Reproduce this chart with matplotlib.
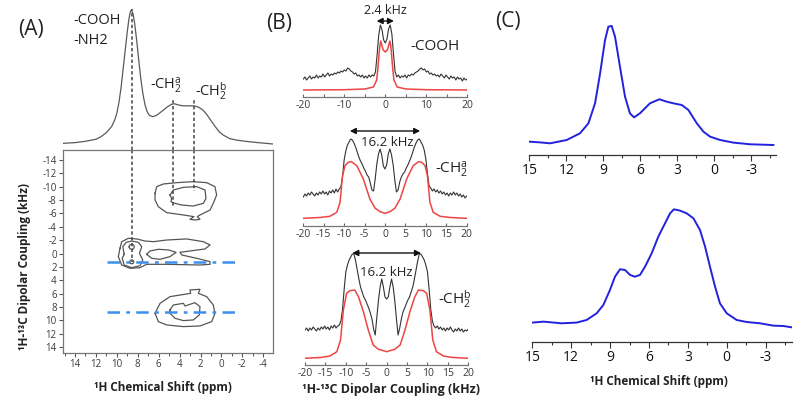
import numpy as np
import matplotlib
matplotlib.use("Agg")
import matplotlib.pyplot as plt

plt.rcParams['font.family'] = ['Open Sans', 'DejaVu Sans']
plt.rcParams['axes.unicode_minus'] = False
plt.rcParams['mathtext.fontset'] = 'custom'
plt.rcParams['mathtext.rm'] = 'Open Sans'
plt.rcParams['mathtext.it'] = 'Open Sans:italic'

# ---------------- DATA ----------------
# Panel A: 1D projection (ppm, intensity)
A_PPM = [15.1, 14.0, 13.0, 12.0, 11.5, 11.0, 10.5, 10.2, 10.0, 9.8, 9.6, 9.4, 9.2, 9.0, 8.85,
         8.7, 8.6, 8.45, 8.3, 8.1, 7.9, 7.7, 7.5, 7.3, 7.1, 6.9, 6.6, 6.3, 6.0, 5.6, 5.2, 4.8,
         4.5, 4.2, 3.8, 3.4, 3.0, 2.6, 2.2, 1.8, 1.4, 1.0, 0.6, 0.2, -0.2, -0.8, -1.5, -2.5, -3.5, -4.9]
A_INT = [0.5, 1.0, 2.0, 3.5, 5.5, 8.5, 13, 18, 23, 31, 42, 56, 70, 84, 93,
         99, 100, 97, 90, 77, 62, 48, 37, 29, 24, 21.5, 20.4, 21, 22.5, 25, 27.5, 29.5,
         30, 29.3, 28.6, 28.4, 28.5, 28.4, 27.5, 25.5, 22, 17.5, 13, 9, 6.5, 4, 2.8, 1.8, 1.0, 0]

# Panel A: 2D contour outlines (ppm, kHz)
CONT_UP_OUTER = [(6.35, -9.01), (6.19, -10.01), (5.56, -10.41), (4.28, -10.61), (2.69, -10.76),
                 (1.41, -10.61), (0.62, -10.01), (0.46, -8.76), (0.78, -7.51), (1.09, -6.51),
                 (2.05, -5.77), (2.31, -5.52), (2.05, -5.12), (2.53, -5.02), (3.01, -5.12),
                 (2.63, -5.52), (3.64, -5.77), (5.24, -6.12), (6.03, -7.01), (6.35, -8.01)]
CONT_UP_INNER = [(4.92, -8.76), (4.60, -9.51), (3.64, -9.91), (2.37, -10.01), (1.57, -9.51),
                 (1.48, -8.26), (1.73, -7.51), (2.69, -7.11), (3.80, -7.26), (4.44, -7.51),
                 (4.82, -7.76), (4.76, -8.26)]
CONT_MID_OUTER = [(9.70, -0.78), (9.54, -1.77), (8.90, -2.28), (8.10, -2.18), (7.31, -1.87),
                  (6.51, -1.77), (5.23, -2.02), (3.32, -2.18), (1.73, -1.77), (1.09, -1.28),
                  (1.57, -0.68), (3.01, -0.38), (3.96, -0.18), (3.80, 0.22), (2.37, 0.72),
                  (1.09, 1.22), (1.09, 1.62), (2.05, 1.72), (5.23, 1.62), (7.15, 1.62),
                  (7.79, 2.12), (8.74, 2.22), (9.54, 1.72), (9.86, 0.47)]
CONT_MID_EYE = [(7.15, 0.12), (6.83, -0.38), (6.03, -0.63), (5.07, -0.53), (4.34, -0.18),
                (4.92, 0.47), (5.87, 0.87), (6.67, 0.72)]
CONT_MID_INNER = [(9.30, 0.12), (9.43, -1.02), (9.11, -1.67), (8.58, -1.87), (7.94, -1.67),
                  (7.62, -1.02), (7.84, -0.03), (7.52, 0.97), (7.79, 1.82), (8.58, 2.12),
                  (9.30, 1.72), (9.49, 0.72)]
CONT_MID_TOP = [(8.83, -1.0), (8.76, -1.28), (8.58, -1.4), (8.40, -1.28), (8.33, -1.0),
                (8.40, -0.72), (8.58, -0.6), (8.76, -0.72)]
CONT_MID_BOT = [(8.78, 1.25), (8.72, 1.04), (8.58, 0.95), (8.44, 1.04), (8.38, 1.25),
                (8.44, 1.46), (8.58, 1.55), (8.72, 1.46)]
CONT_LOW_OUTER = [(6.35, 8.95), (5.87, 7.46), (4.92, 6.46), (3.32, 6.06), (2.94, 5.96),
                  (3.01, 5.46), (2.05, 5.36), (2.21, 5.96), (1.41, 6.46), (0.78, 7.71),
                  (0.62, 8.95), (0.93, 10.20), (2.05, 10.85), (3.64, 10.95), (5.24, 10.70),
                  (6.03, 10.20)]
CONT_LOW_INNER = [(4.92, 8.46), (4.60, 7.71), (3.64, 7.46), (3.48, 7.86), (2.53, 7.36),
                  (2.05, 7.96), (2.12, 9.20), (2.69, 9.95), (3.64, 10.05), (4.44, 9.70),
                  (4.92, 8.95)]
CONTOURS = [CONT_UP_OUTER, CONT_UP_INNER, CONT_MID_OUTER, CONT_MID_EYE, CONT_MID_INNER,
            CONT_MID_TOP, CONT_MID_BOT, CONT_LOW_OUTER, CONT_LOW_INNER]

# Panel A markers: assignment positions (ppm), dashed line ends (kHz), tops (intensity)
ASSIGN_PPM = [8.6, 4.6, 2.6]
ASSIGN_KHZ = [1.2, -7.0, -9.3]
ASSIGN_TOP = [101, 33, 34.5]
SLICE_KHZ = [1.2, 8.7]
SLICE_PPM = [10.9, -1.6]

# Panel B: dipolar slices on a common 0.4 kHz grid
B_KHZ = np.linspace(-20, 20, 101)
B_COOH_EXP = [11, 13, 10, 12, 14, 11, 13, 12, 15, 12,
              14, 13, 16, 13, 15, 17, 14, 16, 15, 17,
              16, 18, 17, 19, 18, 20, 19, 22, 21, 19,
              18, 16, 17, 14, 15, 13, 15, 12, 14, 12,
              15, 13, 15, 14, 18, 35, 55, 65, 60, 50,
              47, 51, 61, 65, 56, 36, 18, 13, 15, 12,
              14, 13, 15, 12, 15, 14, 16, 15, 17, 18,
              19, 21, 22, 20, 21, 18, 19, 16, 17, 15,
              16, 14, 15, 13, 16, 14, 12, 15, 13, 11,
              14, 12, 13, 10, 13, 11, 12, 9, 12, 10, 11]
B_CH2A_EXP = [22, 25, 23, 26, 24, 27, 25, 23, 26, 24,
              27, 25, 28, 25, 27, 24, 28, 26, 29, 26,
              30, 27, 30, 32, 42, 59, 68, 74, 77, 80,
              79, 76, 72, 67, 62, 58, 55, 51, 48, 44,
              42, 36, 29, 28, 40, 55, 65, 70, 64, 53,
              50, 54, 65, 70, 64, 54, 39, 27, 29, 37,
              42, 45, 47, 51, 54, 58, 62, 67, 72, 76,
              79, 80, 77, 74, 69, 60, 45, 33, 31, 28,
              30, 27, 29, 26, 28, 25, 27, 24, 26, 23,
              26, 24, 27, 24, 26, 23, 25, 22, 24, 21, 23]
B_CH2B_EXP = [29, 31, 28, 31, 29, 32, 30, 28, 31, 29,
              32, 30, 33, 30, 32, 29, 33, 31, 34, 31,
              33, 34, 38, 50, 70, 87, 94, 99, 102, 105,
              105, 98, 89, 80, 72, 67, 62, 59, 55, 51,
              46, 40, 30, 24, 42, 59, 72, 80, 72, 62,
              60, 62, 72, 80, 72, 58, 40, 24, 31, 40,
              47, 51, 55, 59, 62, 67, 72, 80, 89, 98,
              105, 105, 102, 99, 94, 87, 70, 50, 38, 33,
              31, 33, 30, 32, 29, 31, 28, 31, 29, 32,
              29, 27, 30, 28, 31, 28, 30, 27, 29, 28, 30]
B_COOH_SIM_X = [-20, -10, -5, -2.9, -2.1, -1.8, -1.5, -1.3, -1.1, -0.8, -0.5, 0,
                0.5, 0.8, 1.1, 1.3, 1.5, 1.8, 2.1, 2.9, 5, 10, 20]
B_COOH_SIM_Y = [0, 0.3, 1, 3, 10, 22, 37, 45, 49, 44, 40, 38,
                40, 44, 49, 45, 37, 22, 10, 3, 1, 0.3, 0]
B_CH2A_SIM_X = [-20, -16, -13.5, -11.8, -11, -10.4, -9.8, -9, -8.2, -6.9, -5.3, -3.7,
                -2.4, -1.2, 0, 1.2, 2.4, 3.7, 5.3, 6.9, 8.2, 9, 9.8, 10.4, 11, 11.8, 13.5, 16, 20]
B_CH2A_SIM_Y = [0.7, 1.5, 2.7, 6.7, 16.7, 43, 53.3, 56.7, 57.3, 53.3, 40, 20,
                10.7, 7.3, 5.7, 7.3, 10.7, 20, 40, 53.3, 57.3, 56.7, 53.3, 43, 16.7, 6.7, 2.7, 1.5, 0.7]
B_CH2B_SIM_X = [-20, -16, -13.9, -12.2, -11.3, -10.6, -9.8, -9, -7.8, -6.9, -5.7, -4.5,
                -3.3, -2, -0.8, 0, 0.8, 2, 3.3, 4.5, 5.7, 6.9, 7.8, 9, 9.8, 10.6, 11.3, 12.2, 13.9, 16, 20]
B_CH2B_SIM_Y = [0.7, 1.6, 3, 7.3, 19, 49, 65.7, 68.3, 69, 62.3, 47.3, 29,
                14, 9.7, 8.3, 7.3, 8.3, 9.7, 14, 29, 47.3, 62.3, 69, 68.3, 65.7, 49, 19, 7.3, 3, 1.6, 0.7]
B_SPLIT = [2.4, 16.2, 16.2]
B_GROUPS = ['-COOH', '-CH$_2^\\mathrm{a}$', '-CH$_2^\\mathrm{b}$']

# Panel C: 1H spectra
C1_PPM = [15.0, 14.13, 13.32, 11.97, 10.89, 10.21, 9.67, 9.26, 8.86, 8.59, 8.32, 8.05, 7.65,
          7.24, 6.84, 6.51, 6.03, 5.22, 4.46, 3.86, 3.32, 2.64, 2.10, 1.42, 0.88, 0.34, -0.47,
          -1.55, -2.90, -4.79]
C1_INT = [2.8, 2.2, 1.4, 4.2, 9.8, 18.2, 35, 60.2, 88.2, 99.4, 100, 91, 65.8,
          40.6, 26.6, 23.2, 26.6, 35, 38.4, 36.4, 35, 33.6, 29.4, 18.2, 11.2, 7, 4.2,
          2, 0.6, 0]
C2_PPM = [15.0, 14.15, 12.74, 11.58, 10.81, 10.03, 9.52, 9.01, 8.62, 8.23, 7.85, 7.46, 7.08,
          6.69, 6.30, 5.79, 5.28, 4.76, 4.37, 4.07, 3.60, 3.09, 2.57, 2.06, 1.67, 1.29, 0.90,
          0.52, 0.0, -0.77, -1.54, -2.57, -3.60, -4.37, -5.0]
C2_INT = [4.0, 4.8, 3.4, 4.0, 6.2, 11.9, 18.9, 31.6, 42.9, 49.2, 48.6, 44.4, 42.9,
          44.4, 51.4, 62.7, 76.8, 88.1, 96.6, 100, 98.9, 96.6, 92.4, 82.5, 68.4, 51.4, 34.5,
          20.3, 11.9, 6.2, 4.5, 3.4, 1.4, 1.1, 0]

# ---------------- STYLE ----------------
GRAY_TXT = '#3a3a3a'
RED = '#ee4444'
BLUE = '#2222dd'
SLICE_BLUE = '#3d8fef'

fig = plt.figure(figsize=(8, 4), dpi=100)


def add_ax(l, t, r, b):
    return fig.add_axes([l / 800, 1 - b / 400, (r - l) / 800, (b - t) / 400])


# ---------- Panel A ----------
axA1 = add_ax(63, 5, 273, 150)
axA1.set_xlim(15.15, -4.93)
axA1.set_ylim(-4.5, 103.7)
axA1.axis('off')
axA1.plot(A_PPM, A_INT, color='#5a5a5a', lw=0.9)

axA2 = add_ax(63, 150, 273, 353)
axA2.set_xlim(15.15, -4.93)
axA2.set_ylim(14.9, -15.5)
for poly in CONTOURS:
    xs = [p[0] for p in poly] + [poly[0][0]]
    ys = [p[1] for p in poly] + [poly[0][1]]
    axA2.plot(xs, ys, color='#555555', lw=0.9)
for p, k, top in zip(ASSIGN_PPM, ASSIGN_KHZ, ASSIGN_TOP):
    axA2.plot([p, p], [-15.5, k], color='#444444', lw=1.1, ls=(0, (2.2, 1.6)))
    axA1.plot([p, p], [-4.5, top], color='#444444', lw=1.1, ls=(0, (2.2, 1.6)))
for k in SLICE_KHZ:
    axA2.plot(SLICE_PPM, [k, k], color=SLICE_BLUE, lw=1.8, ls=(0, (5, 2.5, 1.5, 2.5)))
axA2.set_xticks(np.arange(14, -5, -2))
axA2.set_xticks(np.arange(15, -5, -1), minor=True)
axA2.set_yticks(np.arange(-14, 15, 2))
for s in axA2.spines.values():
    s.set_color('#777777')
    s.set_linewidth(0.9)
axA2.tick_params(axis='both', which='major', labelsize=7, colors='#555555',
                 labelcolor=GRAY_TXT, length=3, width=0.8, direction='out', pad=1.5)
axA2.tick_params(axis='x', which='minor', length=2, width=0.7, colors='#555555', direction='out')

fig.text(73 / 800, 1 - 21 / 400, '-COOH', fontsize=10.5, color='#222222', ha='left', va='center')
fig.text(73 / 800, 1 - 41 / 400, '-NH2', fontsize=10.5, color='#222222', ha='left', va='center')
fig.text(150 / 800, 1 - 86 / 400, '-CH$_2^\\mathrm{a}$', fontsize=10.5, color='#222222', ha='left', va='center')
fig.text(195 / 800, 1 - 91 / 400, '-CH$_2^\\mathrm{b}$', fontsize=10.5, color='#222222', ha='left', va='center')
fig.text(163 / 800, 1 - 387 / 400, '¹H Chemical Shift (ppm)', fontsize=8.5, fontweight='bold',
         color='#222222', ha='center', va='center')
fig.text(25 / 800, 1 - 267 / 400, '¹H-¹³C Dipolar Coupling (kHz)', fontsize=8.5, fontweight='bold',
         color='#222222', ha='center', va='center', rotation=90)
fig.text(31 / 800, 1 - 30 / 400, '(A)', fontsize=15, color='#222222', ha='center', va='center')

# ---------- Panel B ----------
B_BOXES = [(303.3, 18, 467.3, 97.3, -7.3, 72), (303.3, 125, 466.7, 226, -7, 94),
           (305, 245, 468.3, 365, -6, 114)]
B_EXP = [B_COOH_EXP, B_CH2A_EXP, B_CH2B_EXP]
B_SIM = [(B_COOH_SIM_X, B_COOH_SIM_Y), (B_CH2A_SIM_X, B_CH2A_SIM_Y), (B_CH2B_SIM_X, B_CH2B_SIM_Y)]
B_ARROW = [(2.1, 69), (8.6, 88), (8.4, 106)]
B_SPLIT_POS = [(0, 79), (0.5, 77), (-0.15, 87)]
B_GROUP_POS = [(6.0, 44), (12.2, 49), (12.6, 60)]
for i in range(3):
    l, t, r, b, y0, y1 = B_BOXES[i]
    ax = add_ax(l, t, r, b)
    ax.set_xlim(-20, 20)
    ax.set_ylim(y0, y1)
    ax.plot(B_KHZ, B_EXP[i], color='#333333', lw=0.8)
    ax.plot(B_SIM[i][0], B_SIM[i][1], color=RED, lw=1.1)
    for s in ['top', 'left', 'right']:
        ax.spines[s].set_visible(False)
    ax.spines['bottom'].set_color('#777777')
    ax.spines['bottom'].set_linewidth(0.9)
    ax.set_yticks([])
    if i == 0:
        ax.set_xticks([-20, -10, 0, 10, 20])
        ax.set_xticks([-15, -5, 5, 15], minor=True)
    else:
        ax.set_xticks(np.arange(-20, 21, 5))
    ax.tick_params(axis='x', which='both', direction='in', length=2.5, width=0.8,
                   colors='#666666', labelcolor=GRAY_TXT, labelsize=7.5, pad=2)
    ha, ya = B_ARROW[i]
    ax.annotate('', xy=(ha, ya), xytext=(-ha, ya), annotation_clip=False,
                arrowprops=dict(arrowstyle='<|-|>,head_length=0.35,head_width=0.18',
                                color='#111111', lw=1.0, shrinkA=0, shrinkB=0))
    sx, sy = B_SPLIT_POS[i]
    ax.text(sx, sy, f'{B_SPLIT[i]} kHz', fontsize=9.5 if i else 9, color='#222222',
            ha='center', va='center', clip_on=False)
    gx, gy = B_GROUP_POS[i]
    ax.text(gx, gy, B_GROUPS[i], fontsize=11, color='#222222', ha='left', va='center',
            clip_on=False)

fig.text(391 / 800, 1 - 389 / 400, '¹H-¹³C Dipolar Coupling (kHz)', fontsize=9, fontweight='bold',
         color='#222222', ha='center', va='center')
fig.text(279 / 800, 1 - 23 / 400, '(B)', fontsize=15, color='#222222', ha='center', va='center')

# ---------- Panel C ----------
C_BOXES = [(529.3, 20, 776, 155, -8.4, 105), (532.3, 200, 791.5, 341.7, -12.2, 107.9)]
C_DATA = [(C1_PPM, C1_INT), (C2_PPM, C2_INT)]
for i in range(2):
    l, t, r, b, y0, y1 = C_BOXES[i]
    ax = add_ax(l, t, r, b)
    ax.set_xlim(15, -5)
    ax.set_ylim(y0, y1)
    ax.plot(C_DATA[i][0], C_DATA[i][1], color=BLUE, lw=1.4)
    for s in ['top', 'left', 'right']:
        ax.spines[s].set_visible(False)
    ax.spines['bottom'].set_color('#333333')
    ax.spines['bottom'].set_linewidth(0.9)
    ax.set_yticks([])
    ax.set_xticks([15, 12, 9, 6, 3, 0, -3])
    ax.set_xticks(np.arange(13.5, -5, -3), minor=True)
    ax.tick_params(axis='x', which='major', direction='out', length=4.5, width=0.8,
                   colors='#333333', labelcolor='#111111', labelsize=10, pad=1.5)
    ax.tick_params(axis='x', which='minor', direction='out', length=2.5, width=0.8, colors='#333333')

fig.text(659 / 800, 1 - 382 / 400, '¹H Chemical Shift (ppm)', fontsize=8.5, fontweight='bold',
         color='#222222', ha='center', va='center')
fig.text(508 / 800, 1 - 21 / 400, '(C)', fontsize=15, color='#222222', ha='center', va='center')

fig.savefig('out.png', dpi=100)
